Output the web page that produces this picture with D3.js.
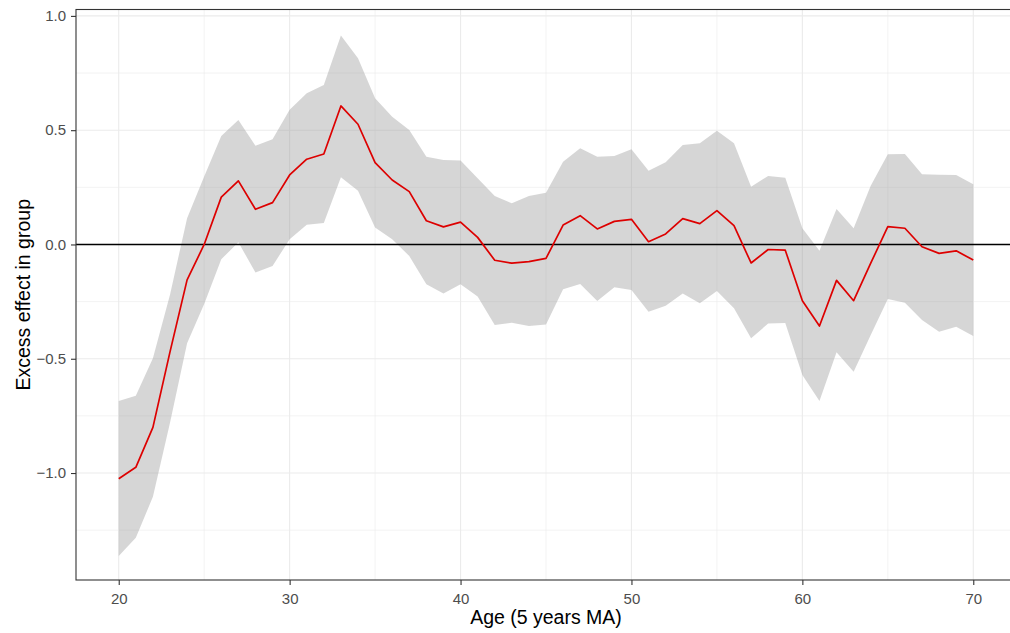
<!DOCTYPE html>
<html>
<head>
<meta charset="utf-8">
<script src="https://cdn.jsdelivr.net/npm/d3@7"></script>
<style>
  body { margin: 0; background: #fff; }
  svg { display: block; font-family: "Liberation Sans", Arial, sans-serif; }
</style>
</head>
<body>
<div id="chart"></div>
<script>
// Data
const ages = [20, 21, 22, 23, 24, 25, 26, 27, 28, 29,
  30, 31, 32, 33, 34, 35, 36, 37, 38, 39,
  40, 41, 42, 43, 44, 45, 46, 47, 48, 49,
  50, 51, 52, 53, 54, 55, 56, 57, 58, 59,
  60, 61, 62, 63, 64, 65, 66, 67, 68, 69, 70];

const estimate = [-1.025, -0.975, -0.80, -0.47, -0.155, 0.0, 0.207, 0.278, 0.154, 0.183,
  0.304, 0.373, 0.396, 0.606, 0.526, 0.358, 0.282, 0.231, 0.104, 0.077,
  0.098, 0.031, -0.069, -0.082, -0.075, -0.061, 0.085, 0.126, 0.068, 0.101,
  0.110, 0.012, 0.046, 0.113, 0.091, 0.148, 0.082, -0.081, -0.022, -0.025,
  -0.246, -0.357, -0.157, -0.246, -0.082, 0.078, 0.071, -0.010, -0.039, -0.028, -0.068];

const upper = [-0.685, -0.662, -0.498, -0.22, 0.115, 0.297, 0.475, 0.545, 0.432, 0.460,
  0.589, 0.662, 0.698, 0.914, 0.815, 0.640, 0.559, 0.501, 0.384, 0.370,
  0.367, 0.290, 0.212, 0.180, 0.212, 0.226, 0.362, 0.421, 0.384, 0.387,
  0.417, 0.322, 0.360, 0.435, 0.443, 0.497, 0.443, 0.253, 0.300, 0.292,
  0.071, -0.027, 0.155, 0.071, 0.257, 0.395, 0.396, 0.307, 0.305, 0.304, 0.263];

const lower = [-1.363, -1.283, -1.104, -0.78, -0.432, -0.26, -0.065, 0.010, -0.123, -0.094,
  0.023, 0.086, 0.094, 0.294, 0.235, 0.074, 0.023, -0.050, -0.174, -0.214,
  -0.174, -0.228, -0.352, -0.342, -0.357, -0.350, -0.196, -0.173, -0.247, -0.187,
  -0.199, -0.294, -0.268, -0.214, -0.257, -0.204, -0.279, -0.410, -0.346, -0.344,
  -0.571, -0.685, -0.472, -0.557, -0.396, -0.239, -0.255, -0.330, -0.382, -0.360, -0.400];

const xTicks = [20, 30, 40, 50, 60, 70];
const xMinor = [25, 35, 45, 55, 65];
const yTicks = [-1.0, -0.5, 0.0, 0.5, 1.0];
const yMinor = [-1.25, -0.75, -0.25, 0.25, 0.75];

const xTitle = "Age (5 years MA)";
const yTitle = "Excess effect in group";

// Dimensions
const W = 1010, H = 633;
const margin = { top: 9.5, right: -6, bottom: 53, left: 76 };
const width = W - margin.left - margin.right;
const height = H - margin.top - margin.bottom;

const rows = ages.map((a, i) => ({ age: a, est: estimate[i], lo: lower[i], hi: upper[i] }));

const x = d3.scaleLinear().domain([17.5, 72.5]).range([0, width]);
const y = d3.scaleLinear().domain([-1.468, 1.028]).range([height, 0]);

const svg = d3.select("#chart").append("svg")
  .attr("width", W)
  .attr("height", H);

const g = svg.append("g")
  .attr("transform", `translate(${margin.left},${margin.top})`);

// Minor grid
g.selectAll(".xminor").data(xMinor).enter().append("line")
  .attr("x1", d => x(d)).attr("x2", d => x(d))
  .attr("y1", 0).attr("y2", height)
  .attr("stroke", "#ebebeb").attr("stroke-width", 0.6);

g.selectAll(".yminor").data(yMinor).enter().append("line")
  .attr("x1", 0).attr("x2", width)
  .attr("y1", d => y(d)).attr("y2", d => y(d))
  .attr("stroke", "#ebebeb").attr("stroke-width", 0.6);

// Major grid
g.selectAll(".xmajor").data(xTicks).enter().append("line")
  .attr("x1", d => x(d)).attr("x2", d => x(d))
  .attr("y1", 0).attr("y2", height)
  .attr("stroke", "#ebebeb").attr("stroke-width", 1.1);

g.selectAll(".ymajor").data(yTicks).enter().append("line")
  .attr("x1", 0).attr("x2", width)
  .attr("y1", d => y(d)).attr("y2", d => y(d))
  .attr("stroke", "#ebebeb").attr("stroke-width", 1.1);

// Confidence ribbon
const area = d3.area()
  .x(d => x(d.age))
  .y0(d => y(d.lo))
  .y1(d => y(d.hi));

g.append("path")
  .datum(rows)
  .attr("fill", "#999999")
  .attr("fill-opacity", 0.4)
  .attr("d", area);

// Zero line
g.append("line")
  .attr("x1", 0).attr("x2", width)
  .attr("y1", y(0)).attr("y2", y(0))
  .attr("stroke", "#000").attr("stroke-width", 1.6);

// Estimate line
const line = d3.line()
  .x(d => x(d.age))
  .y(d => y(d.est));

g.append("path")
  .datum(rows)
  .attr("fill", "none")
  .attr("stroke", "#dd0000")
  .attr("stroke-width", 1.7)
  .attr("stroke-linejoin", "round")
  .attr("d", line);

// Panel border
g.append("rect")
  .attr("x", 0).attr("y", 0)
  .attr("width", width).attr("height", height)
  .attr("fill", "none")
  .attr("stroke", "#333333")
  .attr("stroke-width", 1.1);

// Axes
const fmt = d => d3.format(".1f")(d).replace("-", "\u2212");

const xAxis = g.append("g")
  .attr("transform", `translate(0,${height})`)
  .call(d3.axisBottom(x).tickValues(xTicks).tickSize(5).tickPadding(8));

const yAxis = g.append("g")
  .call(d3.axisLeft(y).tickValues(yTicks).tickFormat(fmt).tickSize(5).tickPadding(5));

[xAxis, yAxis].forEach(ax => {
  ax.select(".domain").remove();
  ax.selectAll(".tick line").attr("stroke", "#333333").attr("stroke-width", 1.1);
  ax.selectAll(".tick text")
    .attr("fill", "#4d4d4d")
    .style("font-size", "15px")
    .style("font-family", "'Liberation Sans', Arial, sans-serif");
});

// Axis titles
svg.append("text")
  .attr("x", margin.left + x(45))
  .attr("y", 624)
  .attr("text-anchor", "middle")
  .style("font-size", "19.5px")
  .attr("fill", "#000")
  .text(xTitle);

svg.append("text")
  .attr("transform", `translate(29.5,${margin.top + height / 2}) rotate(-90)`)
  .attr("text-anchor", "middle")
  .style("font-size", "19.5px")
  .attr("fill", "#000")
  .text(yTitle);
</script>
</body>
</html>
